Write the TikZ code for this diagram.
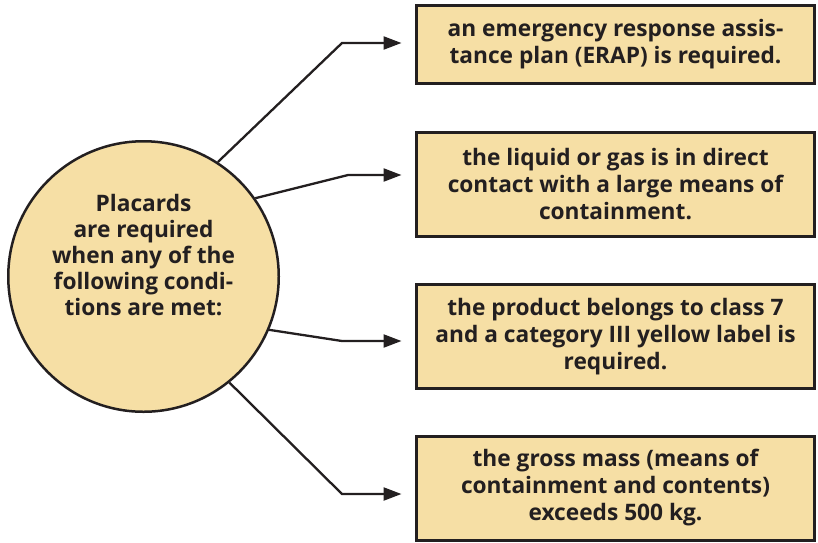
\documentclass[tikz,border=0pt]{standalone}
\usepackage{fontspec}
\setmainfont{Open Sans}
\usetikzlibrary{arrows.meta}
\definecolor{placard}{HTML}{F6DFA5}
\definecolor{ink}{HTML}{231F20}
\begin{document}
\begin{tikzpicture}[>={Triangle[length=18pt,width=13pt]},x=1pt,y=-1pt,
	every node/.style={text=ink,font=\fontsize{22.7}{27}\selectfont\bfseries,align=center},
	condbox/.style={draw=ink,line width=3pt,fill=placard,minimum width=398pt,minimum height=104pt,inner sep=0pt},
	link/.style={->,draw=ink,line width=2.3pt,shorten >=13.5pt}]
		\useasboundingbox (0,0) rectangle (818,542);
		\node[circle,draw=ink,line width=2.5pt,fill=placard,minimum size=270.5pt] (circ) at (143.5,276.5) {};
		\node[font=\fontsize{22.7}{26}\selectfont\bfseries] (title) at (143.5,255) {Placards\\are required\\when any of the\\following condi-\\tions are met:};
		\node[condbox,minimum height=78pt] (erap) at (615.5,44.5) {an emergency response assis-\\tance plan (ERAP) is required.};
		\node[condbox] (contact) at (615.5,184.5) {the liquid or gas is in direct\\contact with a large means of\\containment.};
		\node[condbox] (class) at (615.5,336.5) {the product belongs to class 7\\and a category III yellow label is\\required.};
		\node[condbox] (mass) at (615.5,488) {the gross mass (means of\\containment and contents)\\exceeds 500 kg.};
		% bends of the connectors
		\coordinate (k1) at (342,43);
		\coordinate (k2) at (348,175);
		\coordinate (k3) at (342,341);
		\coordinate (k4) at (342,494);
		\draw[link] (circ.57) -- (k1) -- (k1 -| erap.west);
		\draw[link] (circ.35) -- (k2) -- (k2 -| contact.west);
		\draw[link] (circ.-23) -- (k3) -- (k3 -| class.west);
		\draw[link] (circ.-51) -- (k4) -- (k4 -| mass.west);
	\end{tikzpicture}
\end{document}
